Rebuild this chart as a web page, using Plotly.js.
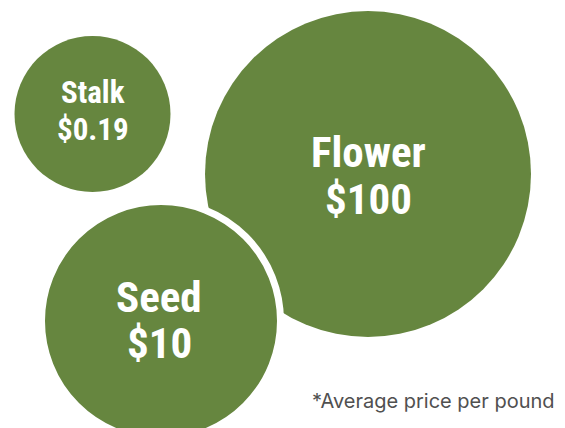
<!DOCTYPE html>
<html><head><meta charset="utf-8">
<script src="https://cdn.plot.ly/plotly-3.0.1.min.js"></script>
<style>html,body{margin:0;padding:0;background:#fff}#chart{width:565px;height:428px}</style>
</head><body><div id="chart"></div>
<script>
// Data
const parts = ["Flower", "Seed", "Stalk"];
const prices = [100, 10, 0.19];
const priceLabels = ["$100", "$10", "$0.19"];
const note = "*Average price per pound";

// Layout (pixel positions of bubbles)
const cx = [368, 161, 92.5];
const cy = [174, 321, 114];
const r = [163, 119.5, 78];
const ring = [0, 7, 0];
const textX = [368.5, 159, 92.5];
const line1Y = [152, 297, 92.5];
const line2Y = [198.5, 343, 129];
const fontSize = [43, 43, 31];
const green = "#66863f";

const shapes = parts.map((p, i) => ({
  type: "circle", xref: "x", yref: "y",
  x0: cx[i] - r[i], x1: cx[i] + r[i], y0: cy[i] - r[i], y1: cy[i] + r[i],
  fillcolor: green,
  line: {color: "#ffffff", width: ring[i]},
  layer: "below"
}));

const fam = "'Roboto Condensed','Liberation Sans Narrow','DejaVu Sans Condensed',Roboto,sans-serif";
const annotations = [];
parts.forEach((p, i) => {
  [[p, line1Y[i]], [priceLabels[i], line2Y[i]]].forEach(([t, yy]) => {
    annotations.push({
      x: textX[i], y: yy, xref: "x", yref: "y",
      text: "<b>" + t + "</b>", showarrow: false,
      font: {family: fam, size: fontSize[i], color: "#ffffff"},
      xanchor: "center", yanchor: "middle"
    });
  });
});
annotations.push({
  x: 557, y: 401, xref: "x", yref: "y", text: note, showarrow: false,
  xanchor: "right", yanchor: "middle",
  font: {family: "Inter, 'Open Sans', sans-serif", size: 20, color: "#505050"}
});

Plotly.newPlot("chart", [{x: [], y: [], type: "scatter", mode: "markers"}], {
  width: 565, height: 428,
  margin: {l: 0, r: 0, t: 0, b: 0},
  paper_bgcolor: "#ffffff", plot_bgcolor: "#ffffff",
  xaxis: {range: [0, 565], visible: false, fixedrange: true},
  yaxis: {range: [428, 0], visible: false, fixedrange: true},
  showlegend: false,
  shapes: shapes,
  annotations: annotations
}, {displayModeBar: false, staticPlot: true});
</script></body></html>
